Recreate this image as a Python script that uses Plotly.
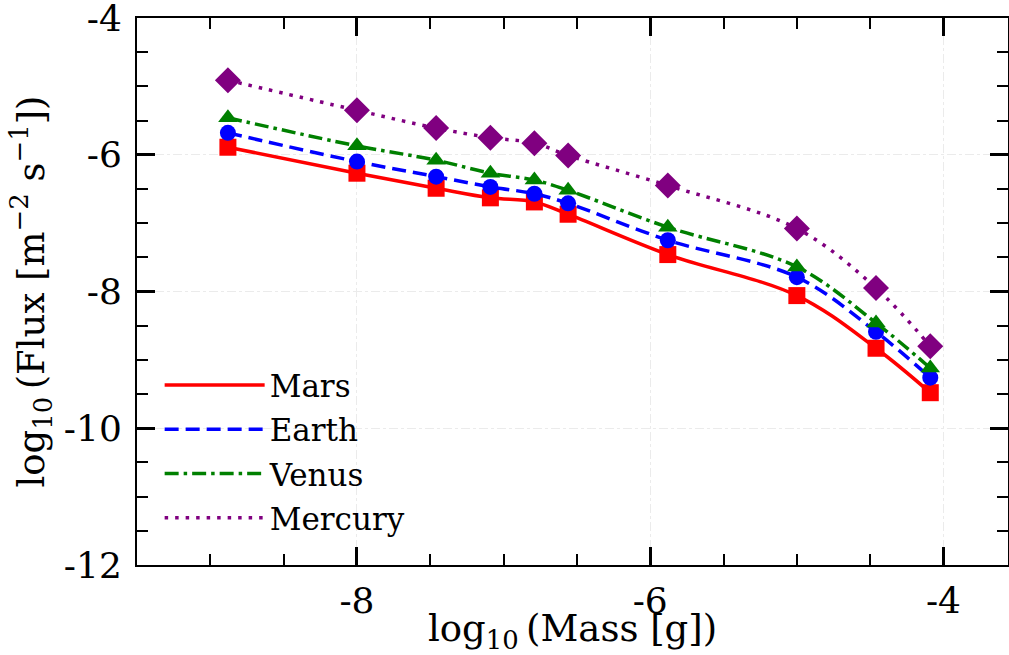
import plotly.graph_objects as go

# log10 of meteoroid mass [g]
log_mass = [-8.88, -8.0, -7.46, -7.09, -6.79, -6.56, -5.88, -5.0, -4.46, -4.09]

# log10 of flux [m^-2 s^-1] at each planet
flux_mars = [-5.89, -6.27, -6.49, -6.63, -6.69, -6.87, -7.46, -8.06, -8.83, -9.48]
flux_earth = [-5.68, -6.10, -6.32, -6.47, -6.57, -6.71, -7.25, -7.79, -8.59, -9.26]
flux_venus = [-5.46, -5.87, -6.08, -6.27, -6.37, -6.52, -7.06, -7.64, -8.46, -9.12]
flux_mercury = [-4.91, -5.35, -5.61, -5.75, -5.83, -6.01, -6.45, -7.08, -7.95, -8.80]

x_ticks = [-8, -6, -4]
y_ticks = [-12, -10, -8, -6, -4]

series = [
    ("Mars", flux_mars, "#ff0000", "solid", "square", 17),
    ("Earth", flux_earth, "#0000ff", "14px,7px", "circle", 16),
    ("Venus", flux_venus, "#008000", "14px,5px,3.5px,5px", "triangle-up", 17),
    ("Mercury", flux_mercury, "#800080", "3.5px,7px", "diamond", 20),
]

FONT = "DejaVu Serif"

fig = go.Figure()
for name, ys, color, dash, symbol, size in series:
    fig.add_trace(go.Scatter(
        x=log_mass, y=ys, mode="lines", name=name, legendgroup=name,
        line=dict(color=color, width=3.5, dash=dash, shape="spline", smoothing=1.0),
    ))
    fig.add_trace(go.Scatter(
        x=log_mass, y=ys, mode="markers", showlegend=False, legendgroup=name,
        marker=dict(color=color, symbol=symbol, size=size, line=dict(width=0)),
    ))

axis_common = dict(
    showline=True, linecolor="black", linewidth=2, mirror="allticks",
    ticks="inside", ticklen=18, tickwidth=3, tickcolor="black",
    showgrid=True, gridcolor="#ebebeb", gridwidth=1, griddash="dashdot",
    zeroline=False, ticklabeloverflow="allow", automargin=False,
    tickfont=dict(family=FONT, size=36, color="black"),
    minor=dict(dtick=0.5, ticks="inside", ticklen=11, tickwidth=1.5,
               tickcolor="black", showgrid=False),
)

fig.update_xaxes(
    range=[-9.5, -3.56], tickvals=x_ticks, ticktext=[str(v) for v in x_ticks],
    title=dict(text="log<sub>10</sub>\u2009(Mass [g])", font=dict(family=FONT, size=37, color="black"),
               standoff=14),
    ticklabelstandoff=3,
    **axis_common,
)
fig.update_yaxes(
    range=[-12, -4], tickvals=y_ticks, ticktext=[str(v) for v in y_ticks],
    title=dict(text="log<sub>10</sub>\u2009(Flux [m<sup>\u22122</sup> s<sup>\u22121</sup>])",
               font=dict(family=FONT, size=37, color="black"), standoff=8),
    ticklabelstandoff=6,
    **axis_common,
)

fig.update_layout(
    width=1009, height=655,
    margin=dict(l=137, r=1, t=18, b=90),
    plot_bgcolor="white", paper_bgcolor="white",
    showlegend=True,
    legend=dict(
        x=0.026, y=0.378, xanchor="left", yanchor="top",
        bgcolor="rgba(0,0,0,0)", borderwidth=0,
        font=dict(family=FONT, size=31, color="black"),
        itemwidth=100, tracegroupgap=1,
    ),
)

fig.write_html("out.html")
